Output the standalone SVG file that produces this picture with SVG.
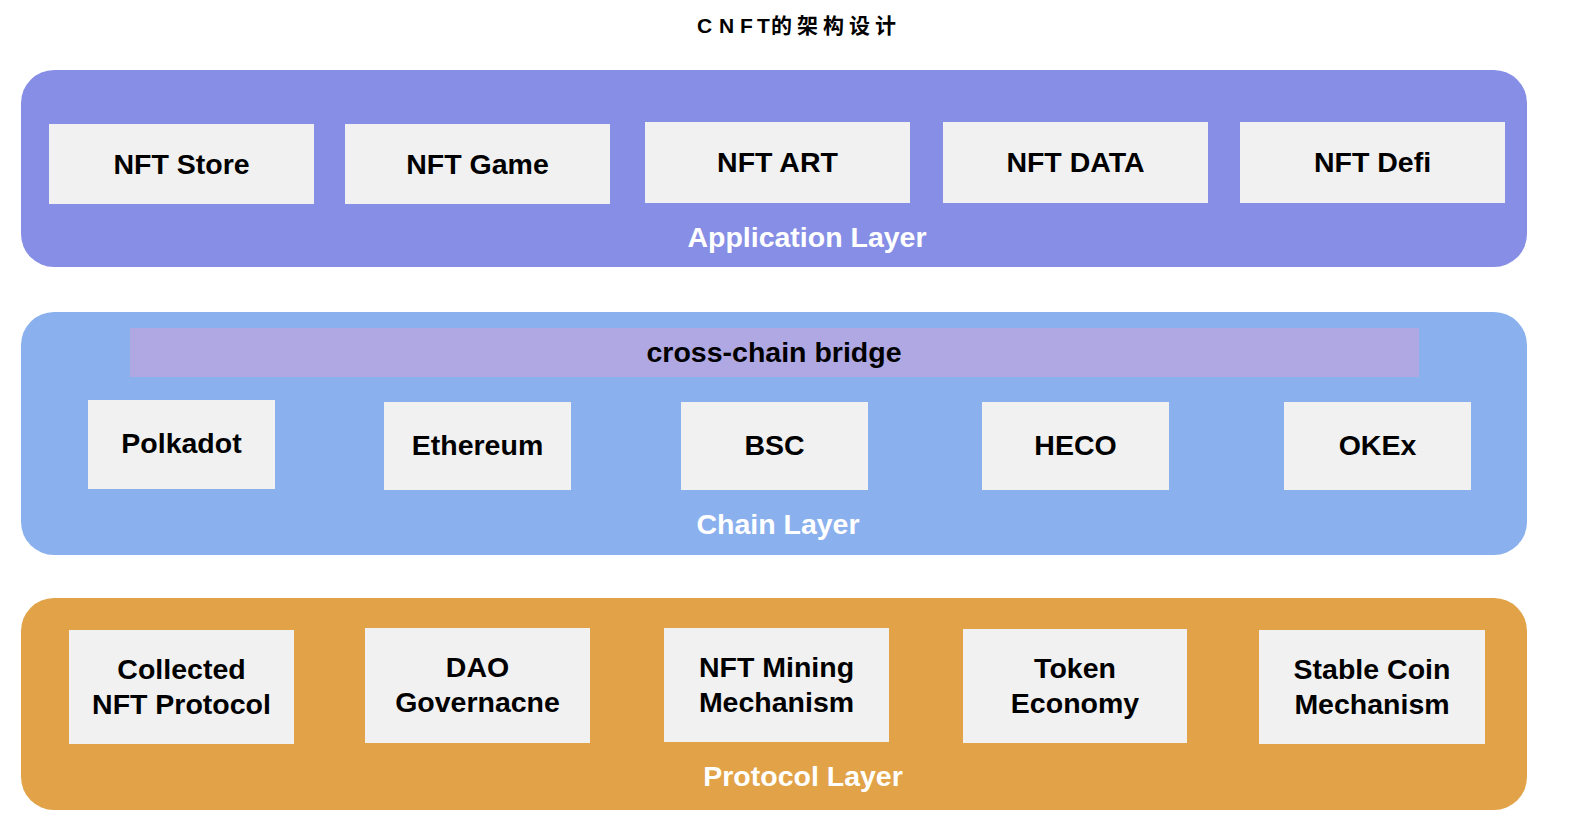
<svg xmlns="http://www.w3.org/2000/svg" width="1575" height="840" viewBox="0 0 1575 840">
<style>
.layer-app{fill:#868EE5}
.layer-chain{fill:#8AB0EE}
.layer-proto{fill:#E1A248}
.bridge{fill:#AFA8E3}
.box{fill:#F1F1F1}
.t{font-family:"Liberation Sans",Arial,sans-serif;font-weight:bold;font-size:28.5px;fill:#000;text-anchor:middle}
.lbl{font-family:"Liberation Sans",Arial,sans-serif;font-weight:bold;font-size:28.5px;fill:#FFFFFF;text-anchor:middle}
.title{font-family:"Liberation Sans","Noto Sans CJK SC",sans-serif;font-weight:bold;font-size:21px;fill:#000}
</style>
<rect width="1575" height="840" fill="#FFFFFF"/>
<text class="title" x="697 719 740 757 771 797 823 849 875" y="33">CNFT的架构设计</text>

<g id="application-layer">
<rect class="layer-app" x="21" y="70" width="1506" height="197" rx="33" ry="33"/>
<text class="lbl" x="807" y="247">Application Layer</text>
</g>
<g id="nft-store"><rect class="box" x="49" y="124" width="265" height="80"/><text class="t" x="181.5" y="174">NFT Store</text></g>
<g id="nft-game"><rect class="box" x="345" y="124" width="265" height="80"/><text class="t" x="477.5" y="174">NFT Game</text></g>
<g id="nft-art"><rect class="box" x="645" y="122" width="265" height="81"/><text class="t" x="777.5" y="172">NFT ART</text></g>
<g id="nft-data"><rect class="box" x="943" y="122" width="265" height="81"/><text class="t" x="1075.5" y="172">NFT DATA</text></g>
<g id="nft-defi"><rect class="box" x="1240" y="122" width="265" height="81"/><text class="t" x="1372.5" y="172">NFT Defi</text></g>

<g id="chain-layer">
<rect class="layer-chain" x="21" y="312" width="1506" height="243" rx="33" ry="33"/>
<text class="lbl" x="778" y="534">Chain Layer</text>
</g>
<g id="cross-chain-bridge"><rect class="bridge" x="130" y="328" width="1289" height="49"/><text class="t" x="774" y="362">cross-chain bridge</text></g>
<g id="polkadot"><rect class="box" x="88" y="400" width="187" height="89"/><text class="t" x="181.5" y="453">Polkadot</text></g>
<g id="ethereum"><rect class="box" x="384" y="402" width="187" height="88"/><text class="t" x="477.5" y="455">Ethereum</text></g>
<g id="bsc"><rect class="box" x="681" y="402" width="187" height="88"/><text class="t" x="774.5" y="455">BSC</text></g>
<g id="heco"><rect class="box" x="982" y="402" width="187" height="88"/><text class="t" x="1075.5" y="455">HECO</text></g>
<g id="okex"><rect class="box" x="1284" y="402" width="187" height="88"/><text class="t" x="1377.5" y="455">OKEx</text></g>

<g id="protocol-layer">
<rect class="layer-proto" x="21" y="598" width="1506" height="212" rx="33" ry="33"/>
<text class="lbl" x="803" y="786">Protocol Layer</text>
</g>
<g id="collected-nft-protocol"><rect class="box" x="69" y="630" width="225" height="114"/><text class="t" x="181.5" y="679">Collected</text><text class="t" x="181.5" y="714">NFT Protocol</text></g>
<g id="dao-governance"><rect class="box" x="365" y="628" width="225" height="115"/><text class="t" x="477.5" y="677">DAO</text><text class="t" x="477.5" y="712">Governacne</text></g>
<g id="nft-mining"><rect class="box" x="664" y="628" width="225" height="114"/><text class="t" x="776.5" y="677">NFT Mining</text><text class="t" x="776.5" y="712">Mechanism</text></g>
<g id="token-economy"><rect class="box" x="963" y="629" width="224" height="114"/><text class="t" x="1075" y="678">Token</text><text class="t" x="1075" y="713">Economy</text></g>
<g id="stable-coin"><rect class="box" x="1259" y="630" width="226" height="114"/><text class="t" x="1372" y="679">Stable Coin</text><text class="t" x="1372" y="714">Mechanism</text></g>

<g id="connectors"></g>
</svg>
